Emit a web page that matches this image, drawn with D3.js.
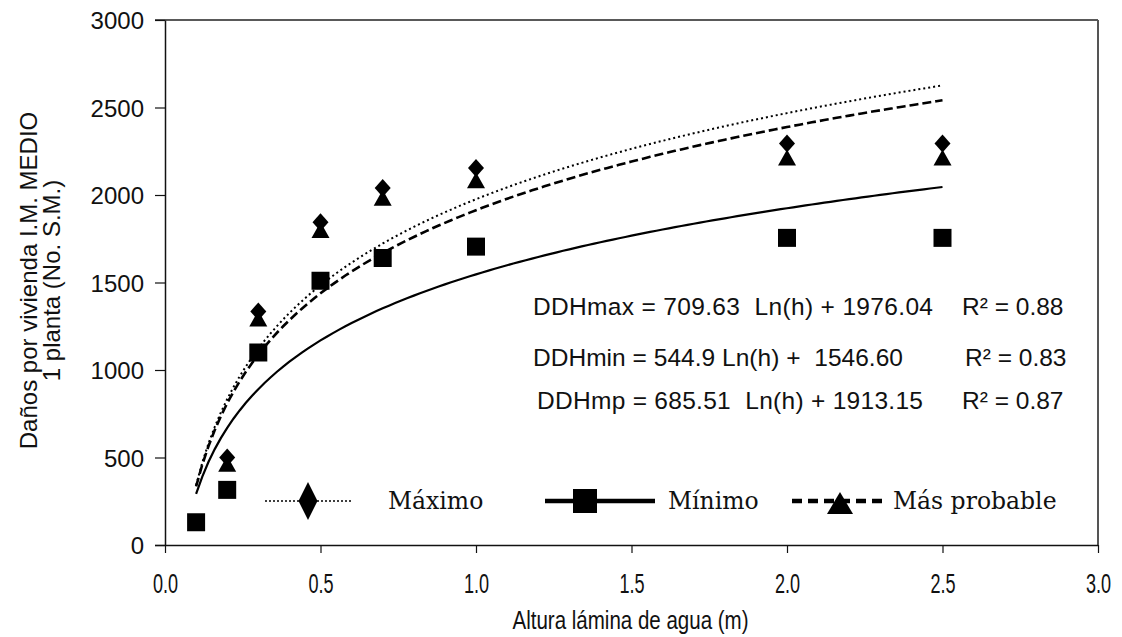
<!DOCTYPE html>
<html>
<head>
<meta charset="utf-8">
<script src="https://cdn.jsdelivr.net/npm/d3@7"></script>
<style>
  body { margin: 0; background: #fff; }
  svg { display: block; }
</style>
</head>
<body>
<div id="main"></div>
<script>
// data
const heights = [0.1, 0.2, 0.3, 0.5, 0.7, 1.0, 2.0, 2.5];
const maxValues = [null, 500, 1335, 1845, 2040, 2155, 2295, 2295];
const minValues = [130, 315, 1100, 1510, 1640, 1705, 1755, 1755];
const mpValues = [null, 465, 1295, 1800, 1985, 2085, 2215, 2215];

const seriesNames = ["Máximo", "Mínimo", "Más probable"];
const fitLabels = ["DDHmax = 709.63  Ln(h) + 1976.04", "DDHmin = 544.9 Ln(h) +  1546.60", "DDHmp = 685.51  Ln(h) + 1913.15"];
const fitSlope = [709.63, 544.9, 685.51];
const fitIntercept = [1976.04, 1546.60, 1913.15];
const rSquared = ["0.88", "0.83", "0.87"];
const fitRange = [0.1, 2.5];

const xTicks = [0, 0.5, 1.0, 1.5, 2.0, 2.5, 3.0];
const yTicks = [0, 500, 1000, 1500, 2000, 2500, 3000];

const ctx = {
  W: 1122, H: 637,
  left: 165, right: 1098, top: 20, bottom: 545,
};

const SANS = "'Liberation Sans', Arial, sans-serif";

function createViz() {
  const svg = d3.select("#main").append("svg")
      .attr("width", ctx.W).attr("height", ctx.H);

  const x = d3.scaleLinear().domain([0, 3]).range([ctx.left, ctx.right]);
  const y = d3.scaleLinear().domain([0, 3000]).range([ctx.bottom, ctx.top]);

  // frame (top + right)
  svg.append("line").attr("x1", ctx.left - 10).attr("x2", ctx.right)
      .attr("y1", ctx.top).attr("y2", ctx.top)
      .attr("stroke", "#222").attr("stroke-width", 1.5);
  svg.append("line").attr("x1", ctx.right).attr("x2", ctx.right)
      .attr("y1", ctx.top).attr("y2", ctx.bottom)
      .attr("stroke", "#555").attr("stroke-width", 2);

  // axes
  const xAxis = svg.append("g")
      .attr("transform", `translate(0,${ctx.bottom})`)
      .call(d3.axisBottom(x).tickValues(xTicks).tickFormat(d3.format(".1f")).tickSize(8).tickSizeOuter(0));
  const yAxis = svg.append("g")
      .attr("transform", `translate(${ctx.left},0)`)
      .call(d3.axisLeft(y).tickValues(yTicks).tickFormat(d3.format("d")).tickSize(10).tickSizeOuter(0));

  xAxis.select(".domain").attr("d", `M${ctx.left - 10},0.5H${ctx.right}`);
  [xAxis, yAxis].forEach(a => {
    a.select(".domain").attr("stroke", "#111").attr("stroke-width", 1.5);
    a.selectAll(".tick line").attr("stroke", "#111").attr("stroke-width", 1.2);
  });
  // narrow-looking x tick labels
  xAxis.selectAll(".tick text")
      .attr("y", 0).attr("dy", 0)
      .attr("transform", "translate(0,48) scale(0.67,1)")
      .style("font-family", SANS)
      .style("font-size", "27px").attr("fill", "#111");
  yAxis.selectAll(".tick text")
      .attr("x", -21).attr("dy", "0.36em")
      .style("font-family", SANS)
      .style("font-size", "24px").attr("fill", "#111");

  // axis titles
  svg.append("text")
      .attr("transform", `translate(${(ctx.left + ctx.right) / 2 - 1},629) scale(0.79,1)`)
      .attr("text-anchor", "middle")
      .style("font-family", SANS)
      .style("font-size", "26px").attr("fill", "#111")
      .text("Altura lámina de agua (m)");

  const yTitle = svg.append("text")
      .attr("transform", `translate(37,${(ctx.top + ctx.bottom) / 2 - 2}) rotate(-90)`)
      .attr("text-anchor", "middle")
      .style("font-family", SANS)
      .style("font-size", "24px").attr("fill", "#111");
  yTitle.append("tspan").attr("x", 0).attr("dy", 0).text("Daños por vivienda I.M. MEDIO");
  yTitle.append("tspan").attr("x", 0).attr("dy", 23).text("1 planta (No. S.M.)");

  // fitted log curves (from the equations printed on the chart)
  const curveX = d3.range(fitRange[0], fitRange[1] + 0.0001, 0.02);
  const line = d3.line().x(d => x(d[0])).y(d => y(d[1]));
  const curveStyle = [
    { dash: "2,3", width: 2 },
    { dash: null, width: 2.2 },
    { dash: "9,4", width: 2.6 },
  ];
  fitSlope.forEach((a, i) => {
    const pts = curveX.map(h => [h, a * Math.log(h) + fitIntercept[i]]);
    svg.append("path").datum(pts)
        .attr("d", line)
        .attr("fill", "none").attr("stroke", "#000")
        .attr("stroke-width", curveStyle[i].width)
        .attr("stroke-dasharray", curveStyle[i].dash);
  });

  // marker shapes
  const diamond = (w, h) => `M0,${-h / 2}L${w / 2},0L0,${h / 2}L${-w / 2},0Z`;
  const square = s => `M${-s / 2},${-s / 2}h${s}v${s}h${-s}Z`;
  const triangle = (w, h) => `M0,${-h / 2}L${w / 2},${h / 2}L${-w / 2},${h / 2}Z`;

  const pts = (vals) => heights.map((h, i) => [h, vals[i]]).filter(d => d[1] != null);

  svg.append("g").selectAll("path").data(pts(minValues)).enter().append("path")
      .attr("transform", d => `translate(${x(d[0])},${y(d[1])})`)
      .attr("d", square(18)).attr("fill", "#000");
  svg.append("g").selectAll("path").data(pts(maxValues)).enter().append("path")
      .attr("transform", d => `translate(${x(d[0])},${y(d[1])})`)
      .attr("d", diamond(16, 18)).attr("fill", "#000");
  svg.append("g").selectAll("path").data(pts(mpValues)).enter().append("path")
      .attr("transform", d => `translate(${x(d[0])},${y(d[1])})`)
      .attr("d", triangle(18, 16)).attr("fill", "#000");

  // equations
  const eqY = [315, 366, 409];
  const eqX = [533, 533, 537];
  const rX = [962, 965, 962];
  const eq = svg.append("g")
      .style("font-family", SANS)
      .style("font-size", "24.5px").attr("fill", "#111");
  fitLabels.forEach((t, i) => {
    eq.append("text").attr("x", eqX[i]).attr("y", eqY[i])
        .attr("textLength", i === 0 ? 400 : i === 1 ? 370 : 386)
        .attr("lengthAdjust", "spacing")
        .attr("xml:space", "preserve").text(t);
    eq.append("text").attr("x", rX[i]).attr("y", eqY[i]).text(`R² = ${rSquared[i]}`);
  });

  // legend
  const legend = svg.append("g");
  const legX = [308, 585, 840];
  const legLine = [[265, 352], [545, 655], [792, 886]];
  const legText = [388, 668, 893];
  const legY = 501;
  seriesNames.forEach((name, i) => {
    const seg = legend.append("line")
        .attr("x1", legLine[i][0]).attr("x2", legLine[i][1])
        .attr("y1", legY).attr("y2", legY)
        .attr("stroke", "#000");
    if (i === 0) seg.attr("stroke-width", 1.5).attr("stroke-dasharray", "2,2");
    if (i === 1) seg.attr("stroke-width", 4.5);
    if (i === 2) seg.attr("stroke-width", 4.5).attr("stroke-dasharray", "10,6");
    const shape = i === 0 ? diamond(19, 38) : i === 1 ? square(24) : triangle(26, 22);
    legend.append("path")
        .attr("transform", `translate(${legX[i]},${legY + (i === 2 ? 2 : 0)})`)
        .attr("d", shape).attr("fill", "#000");
    legend.append("text")
        .attr("x", legText[i]).attr("y", legY + 8)
        .style("font-family", "'DejaVu Serif', 'Liberation Serif', serif")
        .style("font-size", "23.5px").attr("fill", "#111")
        .text(name);
  });
}

createViz();
</script>
</body>
</html>
